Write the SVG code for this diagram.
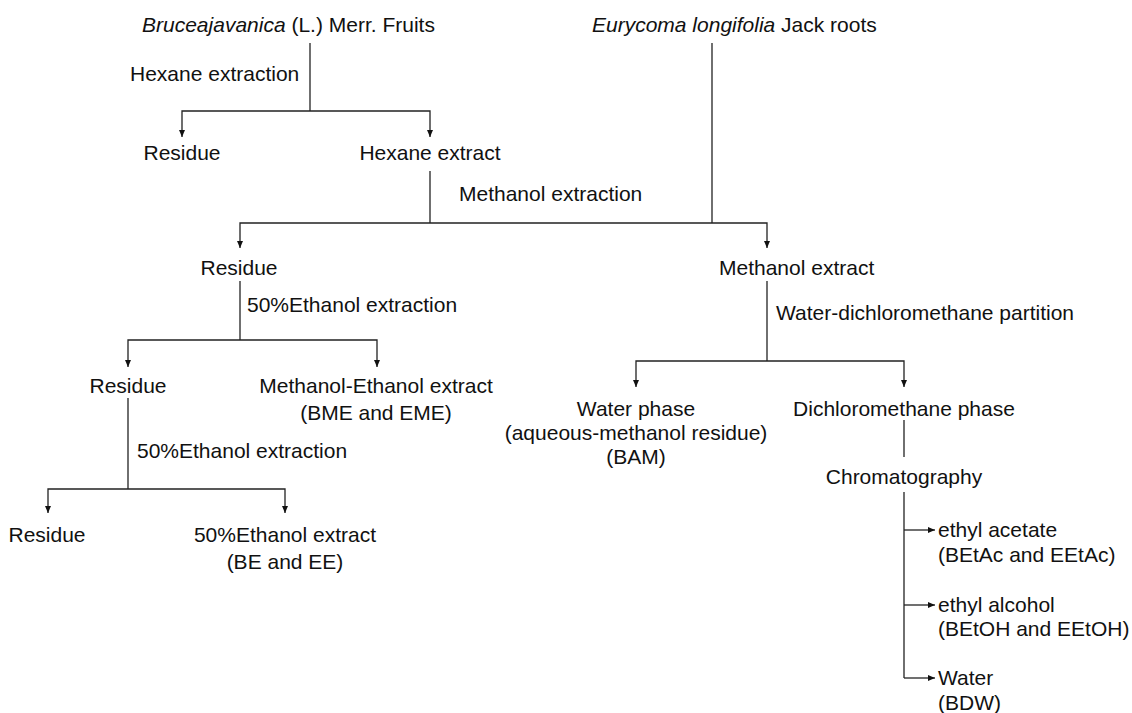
<svg xmlns="http://www.w3.org/2000/svg" width="1132" height="713" viewBox="0 0 1132 713">
<style>
text{font-family:"Liberation Sans",Arial,sans-serif;font-size:21px;fill:#111}
.m{text-anchor:middle}
.i{font-style:italic}
.c{fill:none;stroke:#222;stroke-width:1.3}
</style>
<defs>
<marker id="ah" viewBox="0 0 7 6" refX="7" refY="3" markerWidth="7" markerHeight="6" markerUnits="userSpaceOnUse" orient="auto">
<path d="M0,0 L7,3 L0,6 z" fill="#111"/>
</marker>
</defs>
<rect width="1132" height="713" fill="#fff"/>
<g id="connectors">
<path class="c" d="M310,43 V111"/>
<path class="c" d="M310,111 H182 V137" marker-end="url(#ah)"/>
<path class="c" d="M310,111 H430 V137" marker-end="url(#ah)"/>
<path class="c" d="M430,171 V223"/>
<path class="c" d="M712,43 V223"/>
<path class="c" d="M430,223 H240 V248" marker-end="url(#ah)"/>
<path class="c" d="M430,223 H767 V248" marker-end="url(#ah)"/>
<path class="c" d="M240,281 V340"/>
<path class="c" d="M240,340 H128 V367" marker-end="url(#ah)"/>
<path class="c" d="M240,340 H377 V367" marker-end="url(#ah)"/>
<path class="c" d="M128,398 V489"/>
<path class="c" d="M128,489 H48 V513" marker-end="url(#ah)"/>
<path class="c" d="M128,489 H285 V513" marker-end="url(#ah)"/>
<path class="c" d="M767,281 V361"/>
<path class="c" d="M767,361 H636 V387" marker-end="url(#ah)"/>
<path class="c" d="M767,361 H904 V387" marker-end="url(#ah)"/>
<path class="c" d="M904,420 V457"/>
<path class="c" d="M904,492 V678"/>
<path class="c" d="M904,530 H935" marker-end="url(#ah)"/>
<path class="c" d="M904,605 H935" marker-end="url(#ah)"/>
<path class="c" d="M904,678 H935" marker-end="url(#ah)"/>
</g>
<g id="bruceajavanica"><text x="142" y="32"><tspan class="i">Bruceajavanica</tspan> (L.) Merr. Fruits</text></g>
<g id="eurycoma"><text x="592" y="32"><tspan class="i">Eurycoma longifolia</tspan> Jack roots</text></g>
<g id="label-hexane-extraction"><text x="130" y="81">Hexane extraction</text></g>
<g id="residue1"><text class="m" x="182" y="160">Residue</text></g>
<g id="hexane-extract"><text class="m" x="430" y="160">Hexane extract</text></g>
<g id="label-methanol-extraction"><text x="459" y="201">Methanol extraction</text></g>
<g id="residue2"><text class="m" x="239" y="275">Residue</text></g>
<g id="methanol-extract"><text x="719" y="275">Methanol extract</text></g>
<g id="label-ethanol-extraction1"><text x="247" y="312">50%Ethanol extraction</text></g>
<g id="residue3"><text class="m" x="128" y="393">Residue</text></g>
<g id="methanol-ethanol-extract"><text class="m" x="376" y="393">Methanol-Ethanol extract</text><text class="m" x="376" y="420">(BME and EME)</text></g>
<g id="label-ethanol-extraction2"><text x="137" y="458">50%Ethanol extraction</text></g>
<g id="residue4"><text class="m" x="47" y="542">Residue</text></g>
<g id="ethanol-extract"><text class="m" x="285" y="542">50%Ethanol extract</text><text class="m" x="285" y="569">(BE and EE)</text></g>
<g id="label-partition"><text x="776" y="320">Water-dichloromethane partition</text></g>
<g id="water-phase"><text class="m" x="636" y="416">Water phase</text><text class="m" x="636" y="440">(aqueous-methanol residue)</text><text class="m" x="636" y="464">(BAM)</text></g>
<g id="dcm-phase"><text class="m" x="904" y="416">Dichloromethane phase</text></g>
<g id="chromatography"><text class="m" x="904" y="484">Chromatography</text></g>
<g id="ethyl-acetate"><text x="938" y="537">ethyl acetate</text><text x="938" y="562">(BEtAc and EEtAc)</text></g>
<g id="ethyl-alcohol"><text x="938" y="612">ethyl alcohol</text><text x="938" y="636">(BEtOH and EEtOH)</text></g>
<g id="water"><text x="938" y="685">Water</text><text x="938" y="710">(BDW)</text></g>
</svg>
